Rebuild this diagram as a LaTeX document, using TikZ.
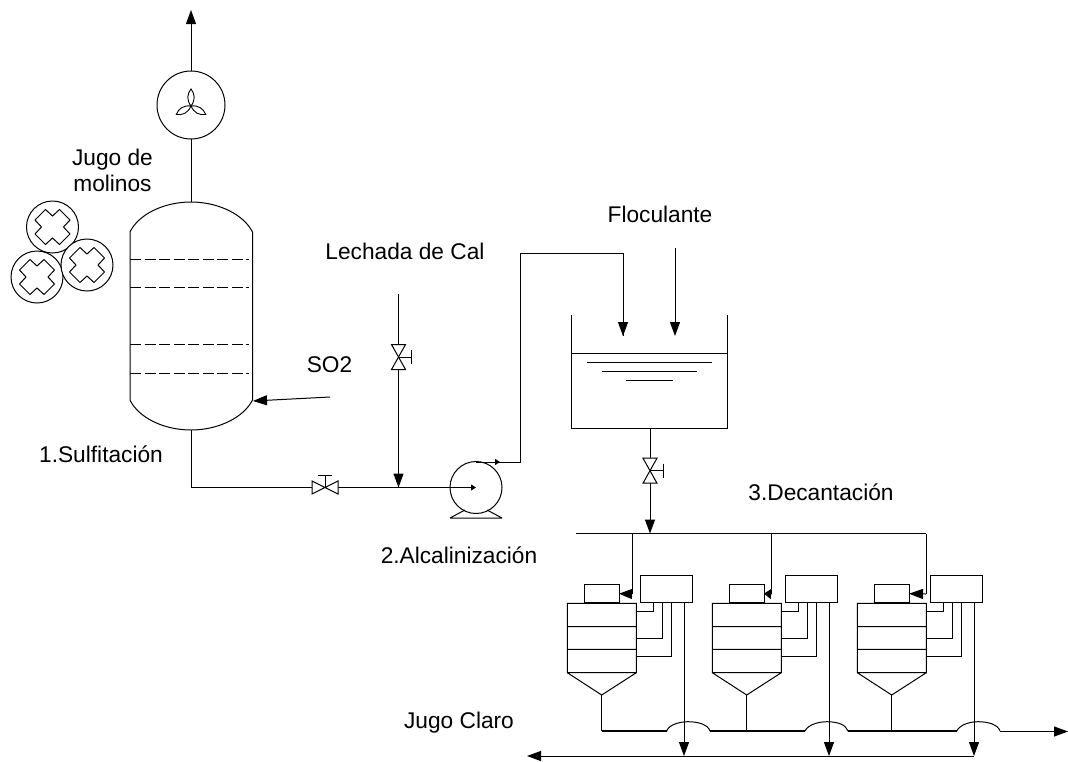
\documentclass[tikz,border=0pt]{standalone}
\usepackage{fontspec}
\setmainfont{Liberation Sans}
\usetikzlibrary{arrows.meta}
\tikzset{
  pipe/.style={line width=1pt,draw=black,line join=miter},
  flow/.style={pipe,-{Triangle[length=14pt,width=10pt]}},
  smallflow/.style={pipe,-{Triangle[length=5pt,width=6pt]}},
  equip/.style={draw=black,line width=1pt,fill=white,inner sep=0pt,outer sep=0pt},
  disc/.style={equip,circle},
  rect/.style={equip,rectangle,anchor=north west},
  tray/.style={line width=1pt,dash pattern=on 11pt off 3.5pt},
  lab/.style={font=\fontsize{22.7}{26}\selectfont,inner sep=0pt,align=center},
  roller/.pic={
    \node[disc,minimum size=52pt] at (0,0) {};
    \draw[line width=1pt] (0,-11)--(7,-17.5)--(17.5,-7)--(11,0)--(17.5,7)--(7,17.5)--(0,11)--(-7,17.5)--(-17.5,7)--(-11,0)--(-17.5,-7)--(-7,-17.5)--cycle;
  },
  vvalve/.pic={
    \draw[line width=1pt,fill=white] (-7,-12.5)--(7,-12.5)--(-7,12.5)--(7,12.5)--cycle;
    \draw[line width=1pt] (0,0)--(13,0) (13,-7)--(13,7);
  }
}
\begin{document}
\begin{tikzpicture}[x=1pt,y=-1pt]
\useasboundingbox (0,0) rectangle (1068,761);
% coordinates
\coordinate (stackTop) at (191,10);
\coordinate (domeTop) at (191,202);
\coordinate (tankBot) at (191.5,430);
\coordinate (so2Start) at (330,397);
\coordinate (so2End) at (253,401);
\coordinate (corner1) at (191.5,487.5);
\coordinate (limeTop) at (398.5,294);
\coordinate (limeJoin) at (398.5,487.5);
\coordinate (pumpIn) at (476,487.5);
\coordinate (pumpOut) at (476,462);
\coordinate (pumpMark) at (500,462);
\coordinate (up1) at (520,462);
\coordinate (up2) at (520,253);
\coordinate (up3) at (623,253);
\coordinate (mixIn1) at (623,336);
\coordinate (flocTop) at (675,248);
\coordinate (flocEnd) at (675,336);
\coordinate (mixOut) at (650,429);
\coordinate (hdrIn) at (650,533.5);
\coordinate (hdrL) at (576,533.5);
\coordinate (hdrR) at (926,533.5);
\coordinate (bottomR) at (974,756);
\coordinate (bottomL) at (527,756);
% fan
\draw[flow] (191,72) -- (stackTop);
\node[disc,minimum width=68pt,minimum height=67pt] (fan) at (191,105) {};
\draw[pipe] (fan.south) -- (domeTop);
\foreach \a in {0,120,240}
  \draw[line width=0.9pt,rotate around={\a:(191,106)}] (191,106) .. controls (186.5,100) and (187,94) .. (191,89) .. controls (195,94) and (195.5,100) .. (191,106);
% rollers
\pic at (52.5,227) {roller};
\pic at (37,277) {roller};
\pic at (87,265) {roller};
% sulfitation tower
\draw[line width=1pt,fill=white] (130,232) .. controls (138,215) and (163,202) .. (191,202) .. controls (219,202) and (244,215) .. (252.5,232) -- (252.5,400) .. controls (244,417) and (219,430) .. (191,430) .. controls (163,430) and (138,417) .. (130,400) -- cycle;
\foreach \y in {259,287,344,373}
  \draw[tray] (130,\y) -- (249,\y);
\draw[flow] (so2Start) -- (so2End);
% line to pump
\node[disc,minimum size=52pt] (pump) at (476,487.5) {};
\draw[line width=1pt] (450,518) -- (502,518) (450,518) -- (465,510) (502,518) -- (487,510);
\draw[pipe] (tankBot) -- (corner1) -- (312,487.5);
\draw[smallflow] (338,487.5) -- (pumpIn);
\draw[line width=1pt,fill=white] (312,481)--(312,494)--(338,481)--(338,494)--cycle;
\draw[line width=1pt] (325,487.5)--(325,475) (318,475)--(332,475);
% lime
\draw[flow] (limeTop) -- (limeJoin);
\pic at (398.5,357) {vvalve};
% pump outlet
\draw[pipe] (pumpOut) -- (up1) -- (up2) -- (up3) -- (mixIn1);
\draw[smallflow] (pumpOut) -- (pumpMark);
\draw[flow] (up3) -- (mixIn1);
\draw[flow] (flocTop) -- (flocEnd);
% mix tank
\draw[line width=1pt] (571.7,315) -- (571.7,428.7) -- (727,428.7) -- (727,315) (571.7,353) -- (727,353);
\draw[line width=1pt] (587,362)--(712,362) (602,371.5)--(697,371.5) (626,380.5)--(673,380.5);
\draw[flow] (mixOut) -- (hdrIn);
\pic at (650,470.7) {vvalve};
% header
\draw[pipe] (hdrL) -- (hdrR);
% decanters
\foreach \i/\o in {1/0,2/145,3/290}{
  \node[rect,minimum width=34.3pt,minimum height=18pt] (sb\i) at (584.7+\o,584.7) {};
  \node[rect,minimum width=52pt,minimum height=27pt] (cb\i) at (640.7+\o,575.7) {};
  \draw[line width=1pt] (567.3+\o,603.3) rectangle (636.3+\o,672.7)
    (567.3+\o,626.7) -- (636.3+\o,626.7) (567.3+\o,649.3) -- (636.3+\o,649.3)
    (567.3+\o,672.7) -- (601.7+\o,695) -- (636.3+\o,672.7);
  \coordinate (apex\i) at (601.7+\o,695);
  \coordinate (col\i) at (601.7+\o,731);
  \draw[pipe] (apex\i) -- (col\i);
  \draw[pipe] (653.3+\o,602.7) -- (653.3+\o,611.7) -- (636.3+\o,611.7);
  \draw[pipe] (662.3+\o,602.7) -- (662.3+\o,638.3) -- (636.3+\o,638.3);
  \draw[pipe] (671+\o,602.7) -- (671+\o,656.7) -- (636.3+\o,656.7);
}
\coordinate (drop1) at (632,533.5);
\coordinate (bend1) at (632,594);
\coordinate (drop2) at (771.7,533.5);
\coordinate (bend2) at (771.7,594);
\coordinate (bend3) at (926,594);
\draw[pipe] (drop1) -- (bend1);
\draw[pipe] (drop2) -- (bend2);
\draw[pipe] (hdrR) -- (bend3);
\draw[flow,-{Triangle[length=13pt,width=10pt]}] (bend1) -- (sb1.east);
\draw[flow,-{Triangle[length=7pt,width=10pt]}] (bend2) -- (sb2.east);
\draw[flow] (bend3) -- (sb3.east);
% collector
\draw[line width=2pt] (col1) -- (666.7,731) (710,731) -- (805,731) (848,731) -- (956.7,731);
\draw[line width=1pt] (666.7,731) .. controls (669,724.5) and (680,721.7) .. (688,721.7) .. controls (698,721.7) and (708,724.5) .. (710,731)
  (805,731) .. controls (808,724.5) and (819,721.7) .. (827,721.7) .. controls (837,721.7) and (846,724.5) .. (848,731)
  (956.7,731) .. controls (960,724.5) and (970,721.7) .. (978,721.7) .. controls (988,721.7) and (998,724.5) .. (1000,731);
\coordinate (outR) at (1068,731.5);
\draw[flow] (1000,731.5) -- (outR);
% returns
\draw[flow] (bottomR) -- (bottomL);
\draw[flow] (684,602.7) -- (684,756);
\draw[flow] (829,602.7) -- (829,756);
\draw[flow] (974,602.7) -- (974,756);
% labels
\node[lab] (t1) at (112.5,170) {Jugo de\\molinos};
\node[lab] (t2) at (329.5,365) {SO2};
\node[lab] (t3) at (405,251) {Lechada de Cal};
\node[lab] (t4) at (660,214) {Floculante};
\node[lab] (t5) at (101,454) {1.Sulfitación};
\node[lab] (t6) at (459,555.5) {2.Alcalinización};
\node[lab] (t7) at (821,492) {3.Decantación};
\node[lab] (t8) at (459,723) {Jugo Claro};
\end{tikzpicture}
\end{document}
